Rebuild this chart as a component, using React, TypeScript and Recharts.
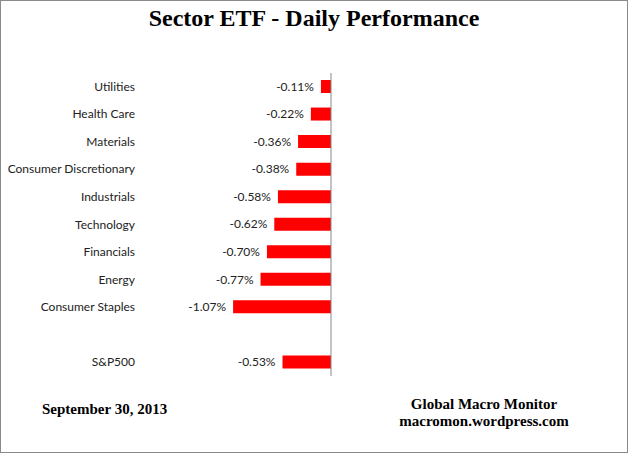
import React from "react";
import { BarChart, Bar, XAxis, YAxis, LabelList } from "recharts";

const categories = [
  "Utilities",
  "Health Care",
  "Materials",
  "Consumer Discretionary",
  "Industrials",
  "Technology",
  "Financials",
  "Energy",
  "Consumer Staples",
  "",
  "S&P500",
];
const values: (number | null)[] = [
  -0.11, -0.22, -0.36, -0.38, -0.58, -0.62, -0.7, -0.77, -1.07, null, -0.53,
];
const boundaryTicks = [0, 1, 2, 3, 4, 5, 6, 7, 8, 9, 10, 11];

const data = categories.map((name, i) => ({ name, value: values[i], slot: i }));

const fmt = (v: any) =>
  v === null || v === undefined || isNaN(Number(v)) ? "" : `${Number(v).toFixed(2)}%`;

const CatTick = (props: any) => {
  const { x, y, payload } = props;
  return (
    <text
      x={x}
      y={y}
      dy={4}
      textAnchor="end"
      fill="#222"
      fontSize={12}
      fontFamily="Lato"
    >
      {payload.value}
    </text>
  );
};

export default function App() {
  return (
    <div style={{ position: "relative", width: 628, height: 453, background: "#fff" }}>
      <style>{`body{margin:0;}`}</style>
      <BarChart
        width={628}
        height={453}
        data={data}
        layout="vertical"
        margin={{ top: 73, right: 297, bottom: 77, left: 8 }}
        barSize={13}
      >
        <XAxis type="number" domain={[-2, 0]} hide allowDataOverflow />
        <YAxis
          yAxisId="cat"
          type="category"
          dataKey="name"
          width={140}
          axisLine={false}
          tickLine={false}
          tickMargin={7}
          interval={0}
          tick={<CatTick />}
        />
        <YAxis
          yAxisId="line"
          type="number"
          dataKey="slot"
          orientation="right"
          domain={[0, 11]}
          ticks={boundaryTicks}
          allowDataOverflow
          reversed
          mirror
          tick={false}
          tickSize={4}
          axisLine={{ stroke: "#888" }}
          tickLine={{ stroke: "#888" }}
        />
        <Bar yAxisId="cat" dataKey="value" fill="#ff0000" isAnimationActive={false}>
          <LabelList
            dataKey="value"
            position="right"
            offset={7}
            formatter={fmt}
            style={{ fill: "#222", fontSize: 12, fontFamily: "Lato" }}
          />
        </Bar>
      </BarChart>
      <div
        style={{
          position: "absolute",
          left: 0,
          top: 5,
          width: 628,
          textAlign: "center",
          fontFamily: "'Liberation Serif', 'Times New Roman', serif",
          fontWeight: "bold",
          fontSize: 24,
          color: "#000",
        }}
      >
        Sector ETF - Daily Performance
      </div>
      <div
        style={{
          position: "absolute",
          left: 42,
          top: 401,
          fontFamily: "'Liberation Serif', 'Times New Roman', serif",
          fontWeight: "bold",
          fontSize: 15,
          color: "#000",
        }}
      >
        September 30, 2013
      </div>
      <div
        style={{
          position: "absolute",
          left: 384,
          top: 396,
          width: 200,
          textAlign: "center",
          fontFamily: "'Liberation Serif', 'Times New Roman', serif",
          fontWeight: "bold",
          fontSize: 15,
          lineHeight: "17px",
          color: "#000",
        }}
      >
        <div>Global Macro Monitor</div>
        <div>macromon.wordpress.com</div>
      </div>
      <div
        style={{
          position: "absolute",
          left: 0,
          top: 0,
          width: 628,
          height: 453,
          boxSizing: "border-box",
          border: "1px solid #8a8a8a",
          pointerEvents: "none",
        }}
      />
    </div>
  );
}
